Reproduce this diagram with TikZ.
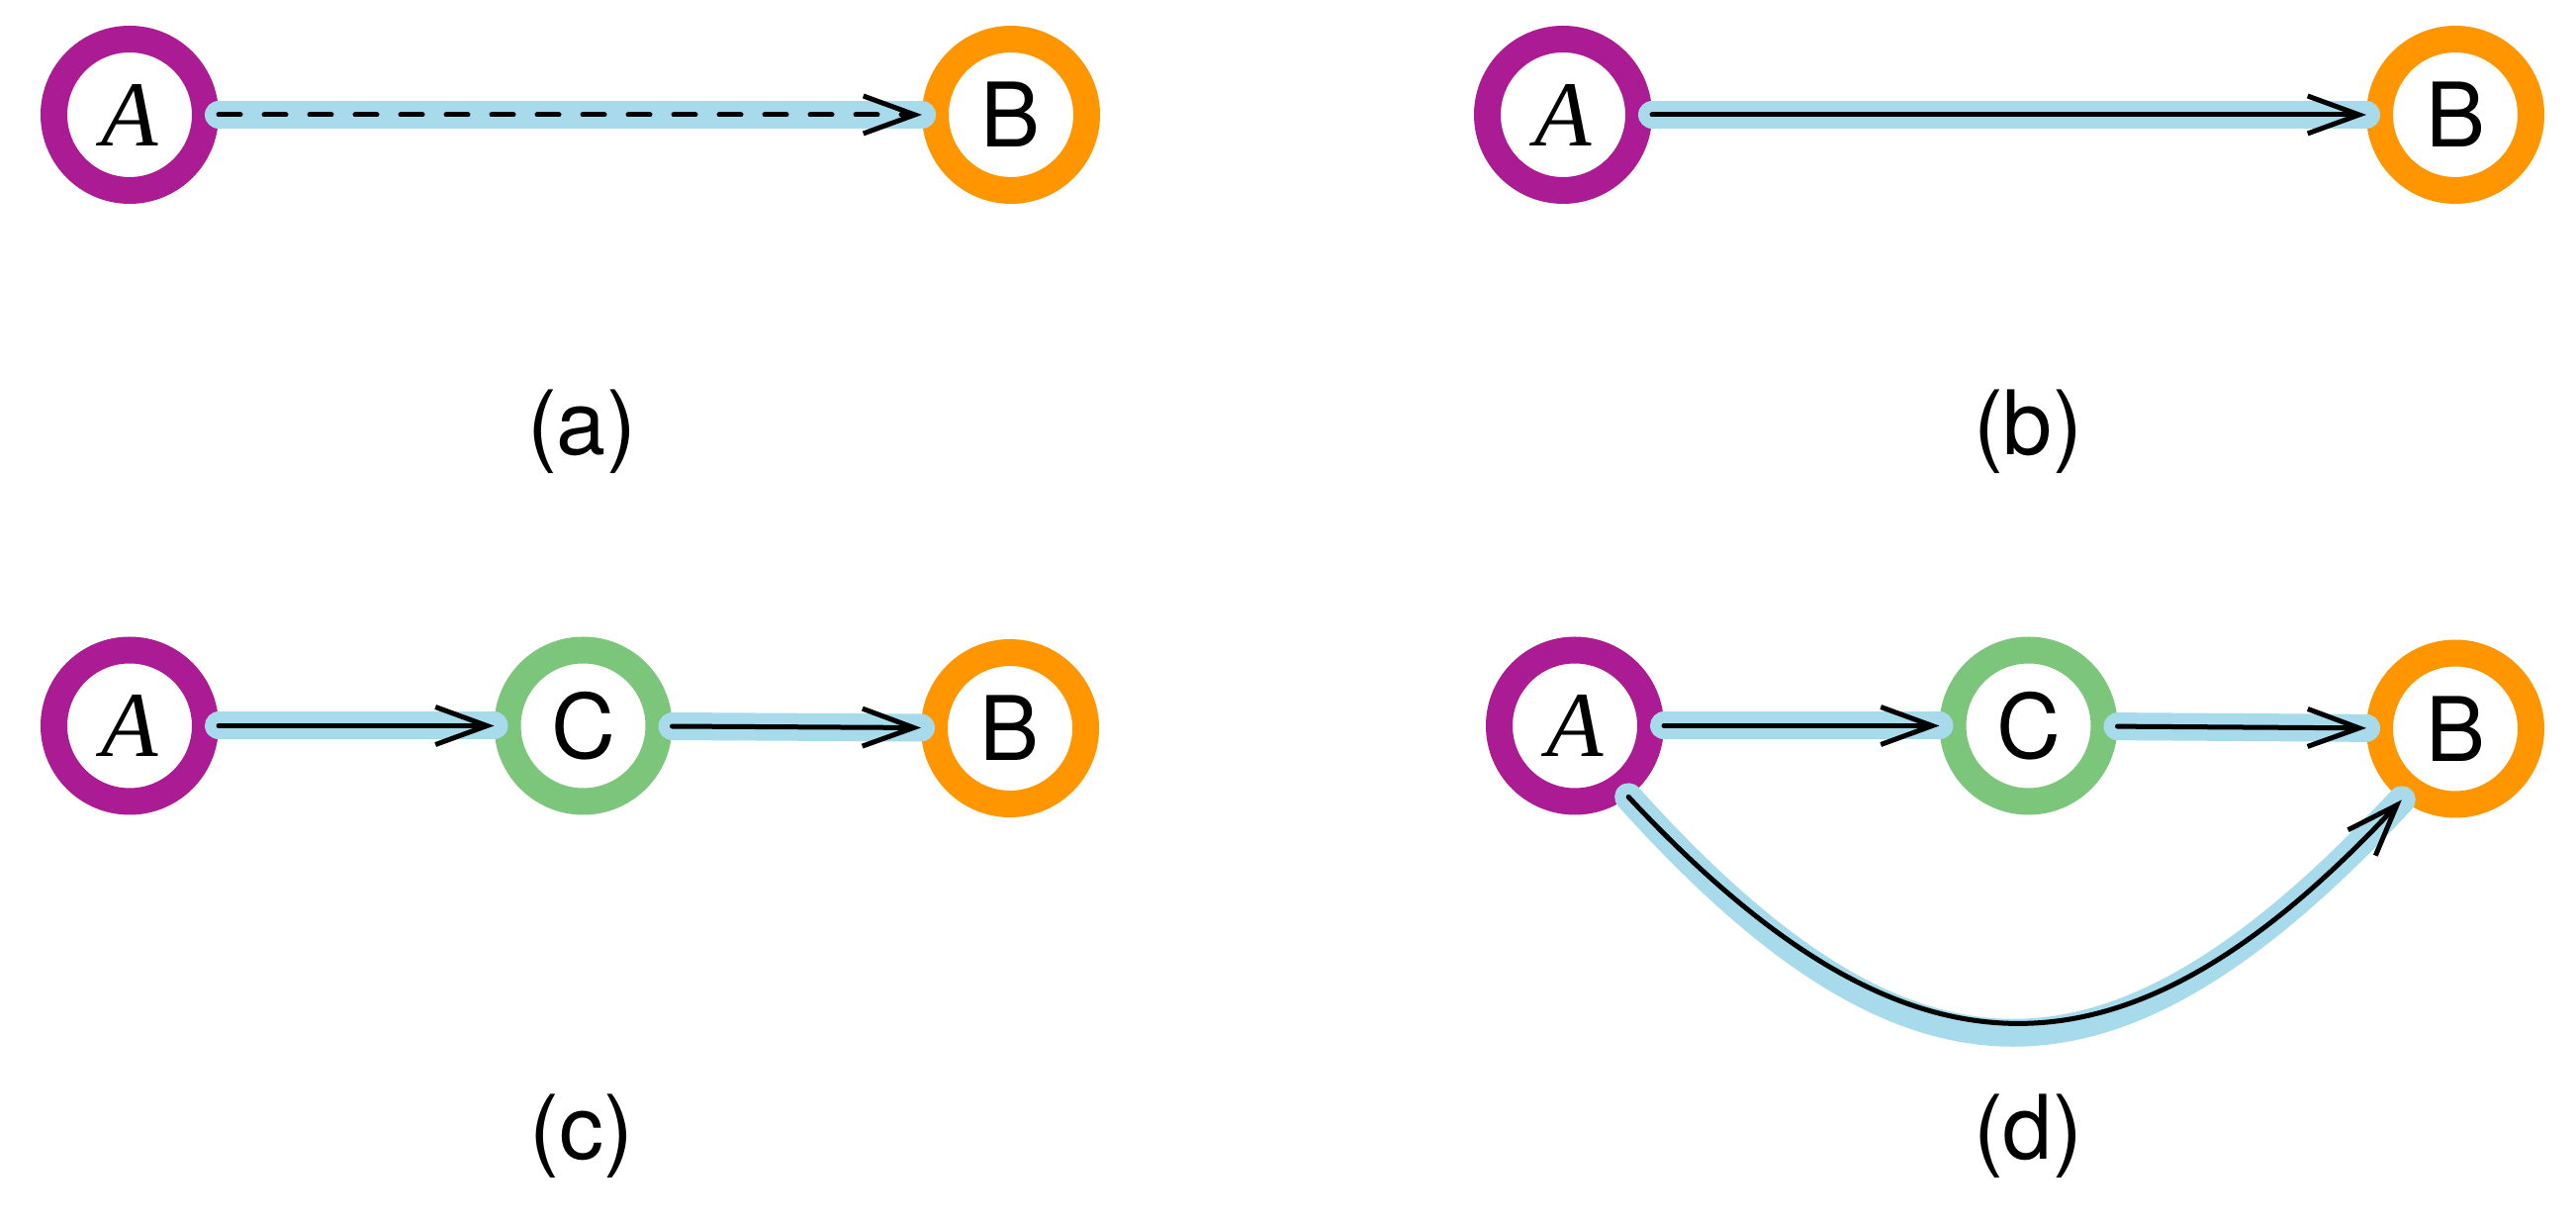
\documentclass[tikz,border=0pt]{standalone}
\usepackage{fontspec}
\setmainfont{TeX Gyre Heros}
\newfontfamily\timesfam{Liberation Serif}
\usetikzlibrary{arrows.meta}
\definecolor{ringpurple}{HTML}{AB1B94}
\definecolor{ringorange}{HTML}{FF9600}
\definecolor{ringgreen}{HTML}{7BC67B}
\definecolor{edgeblue}{HTML}{A7DBEC}
\tikzset{
  ring/.style={circle, draw=#1, line width=13.5pt, fill=white, minimum size=76.5pt, inner sep=0pt,
    font=\fontsize{45}{54}\selectfont},
  itA/.style={font=\fontsize{47}{56}\selectfont\timesfam\itshape},
  bluebg/.style={draw=edgeblue, line width=14pt, line cap=round},
  blackarrow/.style={draw=black, line width=2.5pt, line cap=round,
    -{Straight Barb[length=26pt, width=19pt, line cap=butt]}},
  dashline/.style={dash pattern=on 11pt off 12pt},
  sublabel/.style={font=\fontsize{45}{54}\selectfont, inner sep=0pt}
}
\begin{document}
\begin{tikzpicture}[x=0.5pt, y=0.5pt]
\useasboundingbox[fill=white] (0,0) rectangle (2604,1237);
% (a)
\node[ring=ringpurple, itA] (A1) at (131,1121) {A};
\node[ring=ringorange] (B1) at (1022,1121) {B};
\draw[bluebg] (A1) -- (B1);
\draw[blackarrow, dashline] (A1) -- (B1);
\node[sublabel] (la) at (588,801) {(a)};
% (b)
\node[ring=ringpurple, itA] (A2) at (1580,1121) {A};
\node[ring=ringorange] (B2) at (2482,1121) {B};
\draw[bluebg] (A2) -- (B2);
\draw[blackarrow] (A2) -- (B2);
\node[sublabel] (lb) at (2050,801) {(b)};
% (c)
\node[ring=ringpurple, itA] (A3) at (131,503.5) {A};
\node[ring=ringgreen] (C3) at (589.5,503.5) {C};
\node[ring=ringorange] (B3) at (1021,501) {B};
\draw[bluebg] (A3) -- (C3);
\draw[blackarrow] (A3) -- (C3);
\draw[bluebg] (C3) -- (B3);
\draw[blackarrow] (C3) -- (B3);
\node[sublabel] (lc) at (588,89) {(c)};
% (d)
\node[ring=ringpurple, itA] (A4) at (1592,503.5) {A};
\node[ring=ringgreen] (C4) at (2050.5,503.5) {C};
\node[ring=ringorange] (B4) at (2482,500.5) {B};
\draw[bluebg] (A4) -- (C4);
\draw[blackarrow] (A4) -- (C4);
\draw[bluebg] (C4) -- (B4);
\draw[blackarrow] (C4) -- (B4);
\draw[bluebg] (A4.-53) to[out=-48, in=-133, looseness=1.40] (B4.-127);
\draw[blackarrow] (A4.-53) to[out=-47, in=-133, looseness=1.35] (B4.-127);
\node[sublabel] (ld) at (2050,89) {(d)};
\end{tikzpicture}
\end{document}
